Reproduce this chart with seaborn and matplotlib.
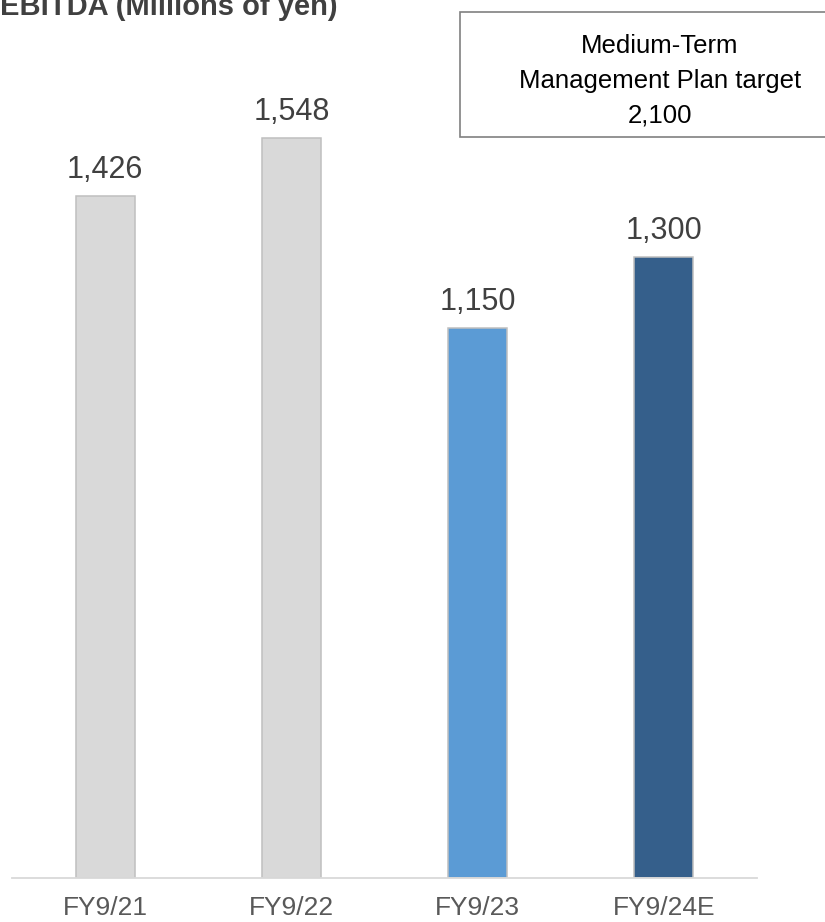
import matplotlib
matplotlib.use("Agg")
import matplotlib.pyplot as plt
from matplotlib.patches import Rectangle
import seaborn as sns

# EBITDA by fiscal year (millions of yen)
categories = ["FY9/21", "FY9/22", "FY9/23", "FY9/24E"]
values = [1426, 1548, 1150, 1300]
bar_colors = ["#D9D9D9", "#D9D9D9", "#5B9BD5", "#355F8B"]
title = "EBITDA (Millions of yen)"
target_lines = ["Medium-Term", "Management Plan target", "2,100"]

sns.set_theme(style="white")
plt.rcParams["font.family"] = ["Liberation Sans", "DejaVu Sans"]

W, H = 825, 922
fig = plt.figure(figsize=(W / 100, H / 100), dpi=100)
ax = fig.add_axes([12 / W, 44 / H, 745 / W, 878 / H])

sns.barplot(x=categories, y=values, hue=categories, palette=bar_colors,
            legend=False, width=0.317, edgecolor="#BFBFBF", linewidth=1.1,
            saturation=1, ax=ax)

ax.set_xlim(-0.5, 3.5)
ax.set_ylim(0, 1837)
ax.set_xlabel("")
ax.set_ylabel("")
ax.set_yticks([])
for side in ["top", "left", "right"]:
    ax.spines[side].set_visible(False)
ax.spines["bottom"].set_color("#D9D9D9")
ax.spines["bottom"].set_linewidth(1.3)
ax.tick_params(axis="x", length=0, pad=13, labelsize=19, labelcolor="#595959")

# value labels above each bar
for i, v in enumerate(values):
    ax.annotate(f"{v:,}", xy=(i, v), xytext=(0, 8), textcoords="offset points",
                ha="center", va="bottom", fontsize=22, color="#404040")

# chart title
fig.text(0.0, 1 - 15 / H, title, ha="left", va="baseline",
         fontsize=21, fontweight="bold", color="#404040")

# target box
box = Rectangle((460 / W, 1 - 137 / H), 380 / W, 125 / H,
                transform=fig.transFigure, facecolor="white",
                edgecolor="#808080", linewidth=1.2)
fig.add_artist(box)
for line, base in zip(target_lines, [53, 88, 123]):
    fig.text(660 / W, 1 - base / H, line, ha="center", va="baseline",
             fontsize=18.5, color="#000000")

fig.savefig("out.png", dpi=100)
